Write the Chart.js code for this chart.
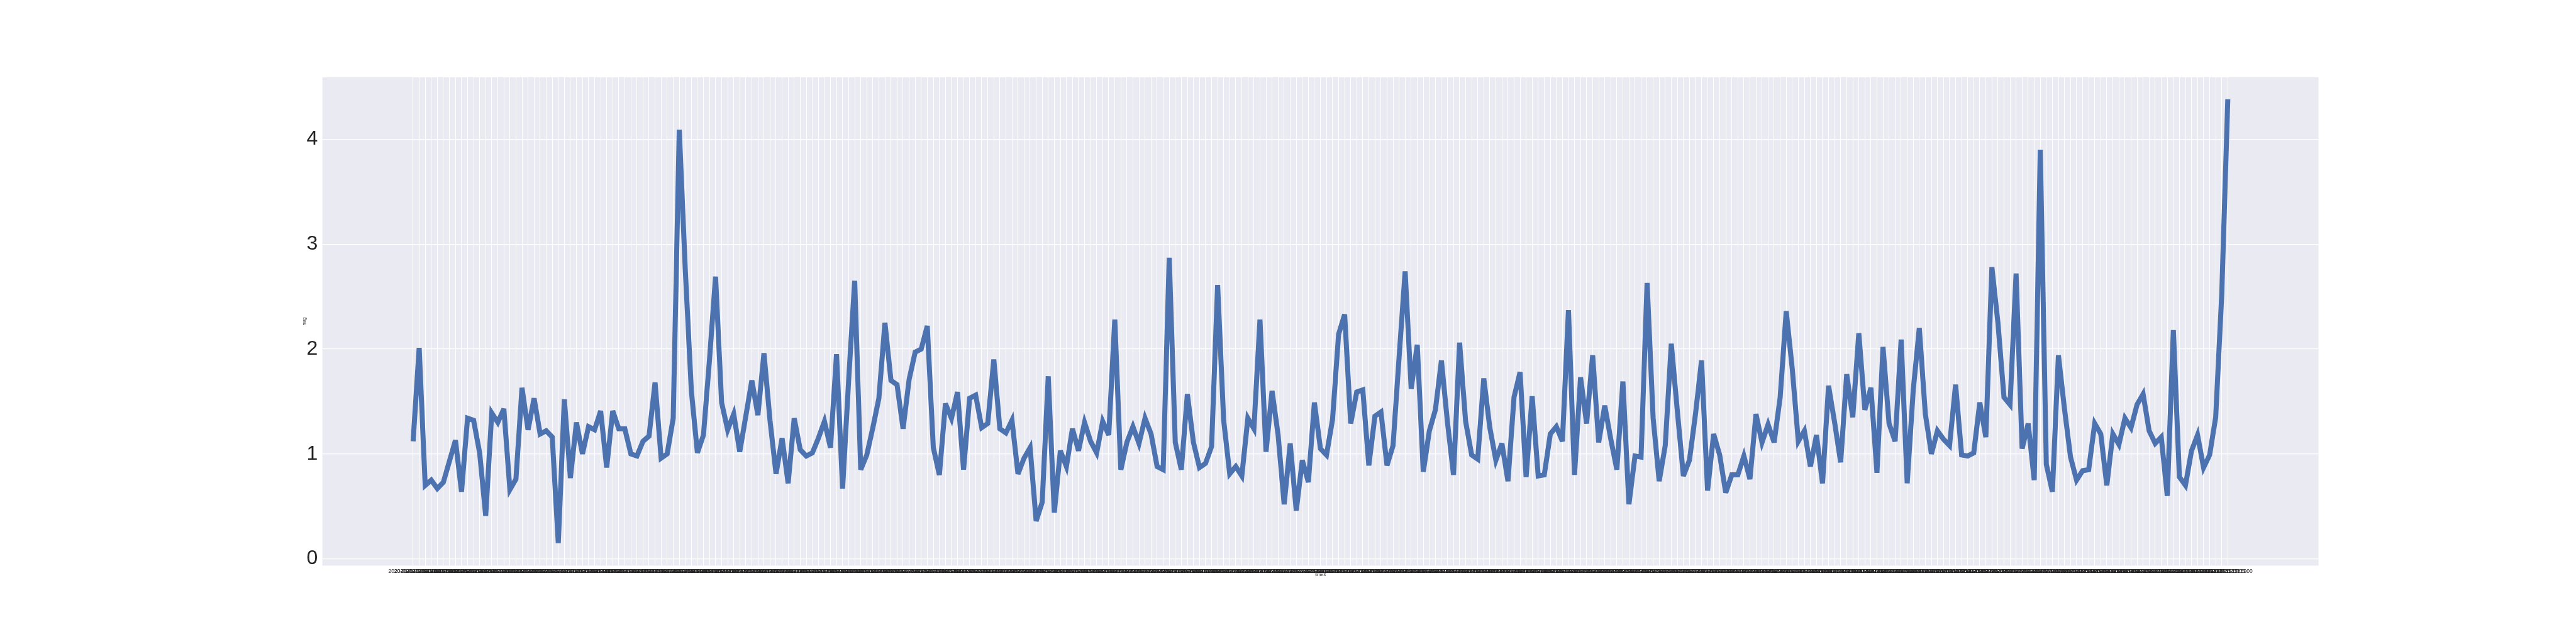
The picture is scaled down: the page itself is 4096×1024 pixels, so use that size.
<!DOCTYPE html>
<html>
<head>
<meta charset="utf-8">
<script src="https://cdn.jsdelivr.net/npm/chart.js@4.4.1/dist/chart.umd.min.js"></script>
<style>
  html, body { margin: 0; padding: 0; background: #fff; }
</style>
</head>
<body>
<canvas id="magChart" width="4096" height="1024"></canvas>
<script>
// y values, one per category
const mag = [
  1.12, 2.01, 0.70, 0.75, 0.67, 0.73, 0.93, 1.13, 0.64, 1.34, 1.32, 1.01, 0.41, 1.39, 1.30, 1.43, 0.66, 0.76, 1.63, 1.23,
  1.53, 1.19, 1.22, 1.16, 0.15, 1.52, 0.77, 1.30, 1.00, 1.26, 1.23, 1.41, 0.87, 1.41, 1.24, 1.24, 1.00, 0.98, 1.12, 1.17,
  1.68, 0.96, 1.00, 1.34, 4.09, 2.75, 1.60, 1.01, 1.18, 1.90, 2.69, 1.49, 1.23, 1.38, 1.02, 1.36, 1.70, 1.37, 1.96, 1.32,
  0.81, 1.15, 0.72, 1.34, 1.04, 0.98, 1.01, 1.15, 1.31, 1.06, 1.95, 0.67, 1.70, 2.65, 0.85, 0.99, 1.25, 1.53, 2.25, 1.70,
  1.66, 1.24, 1.71, 1.97, 2.00, 2.22, 1.06, 0.80, 1.48, 1.34, 1.59, 0.85, 1.53, 1.56, 1.25, 1.29, 1.90, 1.24, 1.20, 1.32,
  0.81, 0.96, 1.06, 0.36, 0.54, 1.74, 0.44, 1.03, 0.88, 1.24, 1.03, 1.30, 1.12, 1.01, 1.31, 1.18, 2.28, 0.85, 1.11, 1.26,
  1.10, 1.34, 1.19, 0.88, 0.85, 2.87, 1.11, 0.85, 1.57, 1.11, 0.87, 0.91, 1.07, 2.61, 1.32, 0.81, 0.88, 0.79, 1.34, 1.24,
  2.28, 1.02, 1.60, 1.18, 0.52, 1.10, 0.46, 0.94, 0.73, 1.49, 1.05, 0.99, 1.33, 2.14, 2.33, 1.29, 1.59, 1.61, 0.89, 1.36,
  1.40, 0.89, 1.08, 1.92, 2.74, 1.62, 2.04, 0.83, 1.22, 1.42, 1.89, 1.30, 0.80, 2.06, 1.31, 0.99, 0.95, 1.72, 1.25, 0.94,
  1.10, 0.74, 1.54, 1.78, 0.78, 1.55, 0.79, 0.80, 1.19, 1.26, 1.12, 2.37, 0.80, 1.73, 1.29, 1.94, 1.11, 1.46, 1.14, 0.85,
  1.69, 0.52, 0.98, 0.97, 2.63, 1.34, 0.74, 1.08, 2.05, 1.41, 0.79, 0.94, 1.38, 1.89, 0.65, 1.19, 0.99, 0.63, 0.80, 0.80,
  0.98, 0.76, 1.38, 1.11, 1.28, 1.11, 1.54, 2.36, 1.81, 1.12, 1.22, 0.88, 1.18, 0.72, 1.65, 1.30, 0.92, 1.76, 1.35, 2.15,
  1.42, 1.63, 0.82, 2.02, 1.29, 1.12, 2.09, 0.72, 1.61, 2.20, 1.38, 1.00, 1.22, 1.14, 1.08, 1.66, 0.99, 0.98, 1.01, 1.49,
  1.16, 2.78, 2.25, 1.54, 1.47, 2.72, 1.05, 1.29, 0.75, 3.90, 0.90, 0.64, 1.94, 1.43, 0.97, 0.75, 0.84, 0.85, 1.29, 1.19,
  0.70, 1.19, 1.09, 1.34, 1.25, 1.47, 1.57, 1.22, 1.10, 1.16, 0.60, 2.18, 0.78, 0.70, 1.03, 1.18, 0.87, 0.99, 1.35, 2.52,
  4.38
];

// category labels (too dense to read in the reference; placeholder timestamps)
const timeLabels = [];
for (let i = 0; i < mag.length; i++) {
  const d = new Date(Date.UTC(2020, 0, 1) + i * 3600 * 1000 * 29 + i * 61 * 1000);
  timeLabels.push(d.toISOString().slice(0, 19).replace('T', ' '));
}

const yTicks = [0, 1, 2, 3, 4];

const plotBg = {
  id: 'plotBg',
  beforeDraw(chart) {
    const { ctx, chartArea: a } = chart;
    ctx.save();
    ctx.fillStyle = '#EAEAF2';
    ctx.fillRect(a.left, a.top, a.right - a.left, a.bottom - a.top);
    ctx.restore();
  },
  beforeDatasetsDraw(chart) {
    chart.ctx.miterLimit = 4;
  }
};

const textColor = '#242424';
const fontFamily = '"Liberation Sans", Arial, sans-serif';

new Chart(document.getElementById('magChart'), {
  type: 'line',
  data: {
    datasets: [{
      data: mag.map((m, i) => ({ x: i, y: m })),
      borderColor: '#4C72B0',
      borderWidth: 8,
      borderJoinStyle: 'miter',
      pointRadius: 0,
      tension: 0,
      fill: false
    }]
  },
  options: {
    responsive: false,
    animation: false,
    devicePixelRatio: 1,
    layout: { padding: { left: 0, right: 409.4, top: 122.9, bottom: 0 } },
    plugins: { legend: { display: false }, tooltip: { enabled: false } },
    scales: {
      x: {
        type: 'linear',
        min: -15,
        max: 315,
        afterBuildTicks: s => { s.ticks = timeLabels.map((_, i) => ({ value: i })); },
        afterFit: s => { s.height = 124.6; },
        ticks: {
          autoSkip: false, maxRotation: 0, minRotation: 0, padding: 4.5,
          color: textColor, font: { family: fontFamily, size: 8.5 },
          callback: v => timeLabels[v]
        },
        grid: { color: '#ffffff', lineWidth: 1, drawTicks: false },
        border: { display: false },
        title: {
          display: true, text: 'time3', color: textColor,
          font: { family: fontFamily, size: 6.8 },
          padding: { top: 0, bottom: 105.8 }
        }
      },
      y: {
        min: -0.065,
        max: 4.59,
        afterBuildTicks: s => { s.ticks = yTicks.map(v => ({ value: v })); },
        afterFit: s => { s.width = 512.6; },
        ticks: {
          padding: 7.4, color: textColor,
          font: { family: fontFamily, size: 32 },
          callback: v => String(v)
        },
        grid: { color: '#ffffff', lineWidth: 1.2, drawTicks: false },
        border: { display: false },
        title: {
          display: true, text: 'mag', color: textColor,
          font: { family: fontFamily, size: 6.5 },
          padding: { top: 480.8, bottom: 0 }
        }
      }
    }
  },
  plugins: [plotBg]
});
</script>
</body>
</html>
